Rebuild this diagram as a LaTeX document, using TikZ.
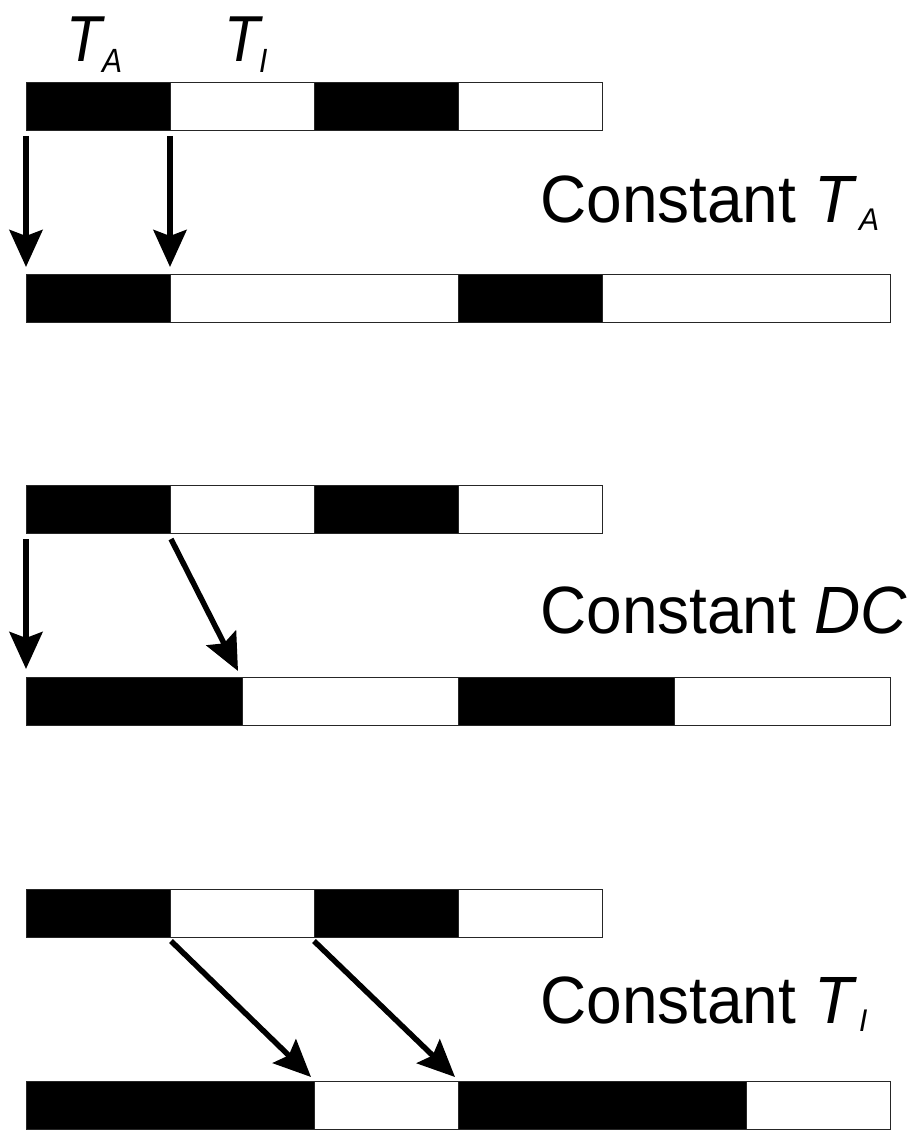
\documentclass[tikz,border=0pt]{standalone}
\usepackage{fontspec}
\setmainfont{Liberation Sans}
\usetikzlibrary{arrows.meta}
\newcommand\lbltext[1]{\scalebox{1}[1.045]{\fontsize{64}{72}\selectfont #1}}
\newcommand\toptext[1]{\scalebox{1}[1.12]{\fontsize{58}{66}\selectfont #1}}
\newcommand\lowsub[2]{\raisebox{-#1}{\fontsize{30}{32}\selectfont\textit{#2}}}
\tikzset{
  on/.style={draw=black!85, line width=0.8pt, fill=black},
  off/.style={draw=black!85, line width=0.8pt, fill=white},
  conn/.style={line width=5.5pt, -{Stealth[length=37pt,width=33pt,inset=6pt]}},
  lbl/.style={inner sep=0pt, anchor=base west}
}
\begin{document}
\begin{tikzpicture}[x=1pt,y=-1pt]
\useasboundingbox (0,0) rectangle (915,1142);
% reference pulse trains
\foreach \r/\ya/\yb in {1/82/130, 3/485/533, 5/889/937}{
  \draw[on]  (26,\ya) rectangle (170,\yb);
  \draw[off] (170,\ya) rectangle (314,\yb);
  \draw[on]  (314,\ya) rectangle (458,\yb);
  \draw[off] (458,\ya) rectangle (602,\yb);
}
% constant TA
\draw[on]  (26,274) rectangle (170,322);
\draw[off] (170,274) rectangle (458,322);
\draw[on]  (458,274) rectangle (602,322);
\draw[off] (602,274) rectangle (890,322);
% constant DC
\draw[on]  (26,677) rectangle (242,725);
\draw[off] (242,677) rectangle (458,725);
\draw[on]  (458,677) rectangle (674,725);
\draw[off] (674,677) rectangle (890,725);
% constant TI
\draw[on]  (26,1081) rectangle (314,1129);
\draw[off] (314,1081) rectangle (458,1129);
\draw[on]  (458,1081) rectangle (746,1129);
\draw[off] (746,1081) rectangle (890,1129);

% arrow end points
\coordinate (a1s) at (26,136);  \coordinate (a1e) at (26,267);
\coordinate (a2s) at (170,136); \coordinate (a2e) at (170,267);
\coordinate (b1s) at (26,539);  \coordinate (b1e) at (26,669);
\coordinate (b2s) at (171,539); \coordinate (b2e) at (238,671);
\coordinate (c1s) at (171,941); \coordinate (c1e) at (311,1077);
\coordinate (c2s) at (314,941); \coordinate (c2e) at (455,1077);
\draw[conn] (a1s) -- (a1e);
\draw[conn] (a2s) -- (a2e);
\draw[conn] (b1s) -- (b1e);
\draw[conn] (b2s) -- (b2e);
\draw[conn] (c1s) -- (c1e);
\draw[conn] (c2s) -- (c2e);

% labels
\node[lbl] (ta) at (66,62) {\toptext{\textit{T}\kern-3pt\lowsub{9pt}{A}}};
\node[lbl] (ti) at (224,62) {\toptext{\textit{T}\kern-4pt\lowsub{9pt}{I}}};
\node[lbl] (l1) at (540,222) {\lbltext{Constant \textit{T}\kern2pt\lowsub{8pt}{A}}};
\node[lbl] (l2) at (540,633) {\lbltext{Constant \textit{DC}}};
\node[lbl] (l3) at (540,1023) {\lbltext{Constant \textit{T}\kern2pt\lowsub{8pt}{I}}};
\end{tikzpicture}
\end{document}
